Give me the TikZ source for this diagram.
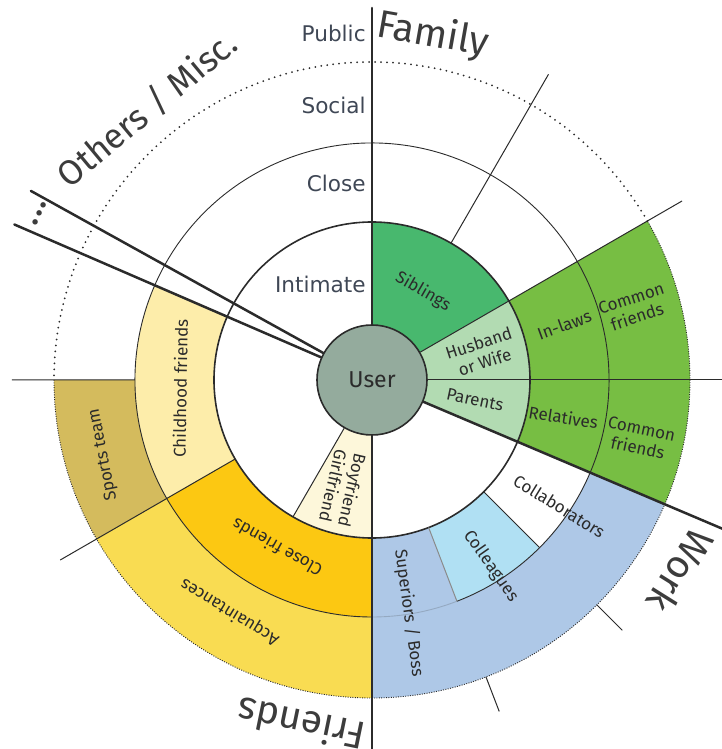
\documentclass[tikz,border=0pt]{standalone}
\usepackage{fontspec}
\setmainfont{DejaVu Sans}
\newfontfamily\catfont{Fira Sans}
\usepackage{xcolor}
\usepackage{tikz}
\definecolor{ink}{HTML}{2B2B2B}
\definecolor{slate}{HTML}{3F4755}
\definecolor{usr}{HTML}{94AB9D}
\definecolor{sib}{HTML}{48B86E}
\definecolor{famlight}{HTML}{B2DBB2}
\definecolor{famgreen}{HTML}{77BE43}
\definecolor{child}{HTML}{FDEDAA}
\definecolor{sport}{HTML}{D4BB5D}
\definecolor{closefr}{HTML}{FCC812}
\definecolor{acq}{HTML}{F9DC52}
\definecolor{bfgf}{HTML}{FDF7DA}
\definecolor{boss}{HTML}{AEC8E7}
\definecolor{coll}{HTML}{B0E0F3}
\tikzset{
  spoke/.style={draw=ink, line width=0.5pt},
  border/.style={draw=ink, line width=1.25pt, line cap=round},
  ring/.style={draw=ink, line width=0.8pt},
  thinring/.style={draw=ink, line width=0.45pt},
  dots/.style={draw=ink, line width=1pt, line cap=round, dash pattern=on 0pt off 3pt},
  edgedots/.style={draw=ink, line width=0.45pt, dash pattern=on 0.5pt off 0.7pt},
  lab/.style={text=ink, font=\catfont\fontsize{8.5}{9.8}\selectfont, align=center, inner sep=0pt},
  zone/.style={text=slate, font=\fontsize{10.8}{12}\selectfont, anchor=base east, inner sep=0pt},
  cat/.style={text=ink!92, font=\catfont\fontsize{19.5}{22}\selectfont, inner sep=0pt},
}

\begin{document}
\begin{tikzpicture}[x=0.5pt,y=0.5pt]
  \def\rU{55}
  \def\rI{158}
  \def\rC{237}
  \def\rS{318}
  \useasboundingbox (-372,-369) rectangle (350,380);
  % coloured sectors: colour/from/to/inner/outer
  \foreach \c/\a/\b/\ri/\ro in {sib/30/90/\rU/\rI, famlight/-23/30/\rU/\rI, famgreen/-23/30/\rI/\rS,
      bfgf/240/270/\rU/\rI, child/156.5/210/\rI/\rC, closefr/210/270/\rI/\rC,
      sport/180/210/\rC/\rS, acq/210/270/\rC/\rS,
      boss/-90/-69/\rI/\rC, boss/-90/-23/\rC/\rS, coll/-69/-45/\rI/\rC}{
    \fill[\c] (\a:\ri) arc[start angle=\a, end angle=\b, radius=\ri]
      -- (\b:\ro) arc[start angle=\b, end angle=\a, radius=\ro] -- cycle;
  }
  % rings
  \draw[ring] (0,0) circle[radius=\rI];
  \draw[thinring] (-69:\rC) arc[start angle=-69, end angle=270, radius=\rC];
  \draw[thinring, draw=boss!80!ink] (-90:\rC) arc[start angle=-90, end angle=-69, radius=\rC];
  \draw[dots] (30:\rS) arc[start angle=30, end angle=180, radius=\rS];
  \draw[edgedots] (180:\rS) arc[start angle=180, end angle=390, radius=\rS];
  % user in the middle
  \node[circle, fill=usr, draw=ink, line width=0.8pt, minimum size=55pt, inner sep=0pt,
        text=ink, font=\catfont\fontsize{11.5}{13}\selectfont] (user) at (0,0) {User};
  % thin dividers
  \draw[spoke] (user.30) -- (30:358);
  \draw[spoke] (user.0) -- (0:350);
  \draw[spoke] (user.240) -- (240:\rI);
  \draw[spoke] (60:\rI) -- (60:353) (210:\rI) -- (210:360) (180:\rC) -- (180:360);
  \draw[spoke] (-45:\rI) -- (-45:\rC) (-45:\rS) -- (-45:354);
  \draw[spoke, draw=ink!55] (-69:\rI) -- (-69:\rC);
  \draw[spoke] (-69:\rS) -- (-69:355);
  % thick category borders
  \draw[border] (user.90) -- (90:372) (user.270) -- (270:369);
  \draw[border] (user.-23) -- (-23:381);
  \draw[border] (user.151) -- (151:390) (user.156.5) -- (156.5:390);
  % zone names
  \foreach \n/\y/\t in {pub/338/Public, soc/266/Social, clo/188/Close, int/87/Intimate}{
    \node[zone] (\n) at (-6,\y) {\t};
  }
  % sector labels: name/angle/radius/rotation/text
  \foreach \n/\ang/\rad/\rot/\t in {sibl/60/102/-30/Siblings,
      spouse/14/113/18/{Husband\\or Wife}, par/-11/105/-12/Parents,
      inlaw/16/200/20/In-laws, comA/15.4/272/18/{Common\\friends},
      rel/-11/195/-9/Relatives, comB/-12.3/274/-12/{Common\\friends},
      childf/182.5/192/89/Childhood friends, sport/195.6/279/101/Sports team,
      closef/240.5/193/150.5/Close friends, acqu/238.5/272/148.5/Acquaintances,
      partner/255/112/-103/{Boyfriend\\Girlfriend},
      boss/-81/236/-82/{Superiors / Boss}, colg/-57.5/221/-55/Colleagues,
      colb/-34/226/-31.5/Collaborators}{
    \node[lab, rotate=\rot] (\n) at (\ang:\rad) {\t};
  }
  % category names
  \node[cat, rotate=-10] (family) at (80:350) {Family};
  \node[cat, rotate=-122] (work) at (-31.7:363) {Work};
  \node[cat, rotate=168.4] (friends) at (-101.6:352) {Friends};
  \node[cat, rotate=39.7, font=\catfont\fontsize{17.5}{20}\selectfont] (misc) at (129.7:352) {Others / Misc.};
  \node[cat, rotate=63.4] (more) at (153.4:372) {...};
\end{tikzpicture}
\end{document}
